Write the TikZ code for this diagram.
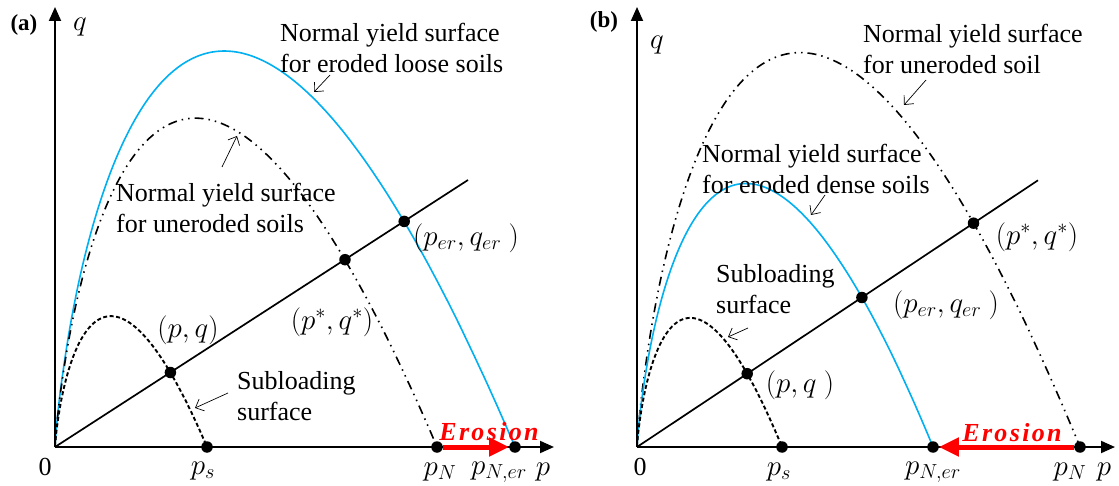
\RequirePackage{fix-cm}
\documentclass[tikz,border=0pt]{standalone}
\usepackage{fontspec}
\setmainfont{Liberation Serif}
\usetikzlibrary{arrows.meta}
\definecolor{yblue}{RGB}{0,176,240}
\definecolor{ered}{RGB}{255,0,0}
\begin{document}
\begin{tikzpicture}[x=1pt,y=1pt,
  axis/.style={line width=1.9pt,-{Triangle[length=14pt,width=12pt]}},
  ratio/.style={line width=1.7pt},
  bluecurve/.style={yblue,line width=1.6pt},
  unercurve/.style={line width=1.6pt,dash pattern=on 9pt off 5pt on 1.5pt off 5pt on 1.5pt off 5pt},
  subcurve/.style={line width=1.9pt,dash pattern=on 4pt off 2.5pt},
  dot/.style={circle,fill=black,inner sep=0pt,minimum size=11.5pt},
  pointer/.style={line width=0.7pt,-{Straight Barb[length=7pt,width=13pt]}},
  erosion/.style={ered,line width=5pt,-{Triangle[length=20pt,width=18pt]}},
  lbl/.style={inner sep=0pt,font=\fontsize{26}{31}\selectfont},
  mlbl/.style={inner sep=0pt,font=\fontsize{29}{33}\selectfont},
  multi/.style={lbl,align=left,anchor=west},
  tag/.style={inner sep=0pt,font=\fontsize{23}{27}\selectfont\bfseries},
  erotext/.style={inner sep=0pt,text=ered,font=\fontsize{26}{30}\selectfont\bfseries\itshape\addfontfeature{LetterSpace=9}}
]
\useasboundingbox (0,0) rectangle (1119,485);

% ---------------- panel (a) ----------------
\coordinate (Oa) at (55,38);
\coordinate (Ya) at (55,478);
\coordinate (Xa) at (554,38);
\coordinate (La) at (468,305);

\draw[bluecurve] plot[domain=0.01:1,samples=200,variable=\t] ({55+460*\t*\t},{38-2*2.34*460*\t*\t*ln(\t)});
\draw[unercurve] plot[domain=0.01:1,samples=200,variable=\t] ({55+382*\t*\t},{38-2*2.34*382*\t*\t*ln(\t)});
\draw[subcurve] plot[domain=0.01:1,samples=120,variable=\t] ({55+152*\t*\t},{38-2*2.34*152*\t*\t*ln(\t)});

\draw[axis] (Oa) -- (Ya);
\draw[axis] (Oa) -- (Xa);
\draw[ratio] (Oa) -- (La);

\node[dot] (pqa) at (170.4,112.5) {};
\node[dot] (psta) at (345.0,225.3) {};
\node[dot] (pera) at (404.2,263.6) {};
\node[dot] (psa) at (207,38) {};
\node[dot] (pNa) at (437,38) {};
\node[dot] (pNera) at (515,38) {};
\draw[erosion] (pNa) -- (pNera);

\node[tag] (taga) at (24,460) {(a)};
\node[mlbl] (qa) at (80,458) {$q$};
\node[lbl] (za) at (45,18) {0};
\node[mlbl] (lpsa) at (203,14) {$p_s$};
\node[mlbl] (lpNa) at (440,13) {$p_N$};
\node[mlbl] (lpNera) at (499,13) {$p_{N,er}$};
\node[mlbl] (lpa) at (543,13) {$p$};
\node[erotext] (eroa) at (489,53) {Erosion};

\node[multi] (topa) at (280,437) {Normal yield surface\\for eroded loose soils};
\node[multi] (unera) at (116,277) {Normal yield surface\\for uneroded soils};
\node[multi] (subla) at (237,89) {Subloading\\surface};
\node[mlbl] (lpera) at (466,247) {$(p_{er},q_{er}\ )$};
\node[mlbl] (lpsta) at (332,163) {$(p^*,q^*)$};
\node[mlbl] (lpqa) at (188,155) {$(p,q)$};

\coordinate (a1s) at (330,410); \coordinate (a1e) at (314,393);
\coordinate (a2s) at (222,318); \coordinate (a2e) at (237,349);
\coordinate (a3s) at (228,92);  \coordinate (a3e) at (195,77);
\draw[pointer] (a1s) -- (a1e);
\draw[pointer] (a2s) -- (a2e);
\draw[pointer] (a3s) -- (a3e);

% ---------------- panel (b) ----------------
\coordinate (Ob) at (637,38);
\coordinate (Yb) at (637,478);
\coordinate (Xb) at (1115,38);
\coordinate (Lb) at (1038,304.7);

\draw[unercurve] plot[domain=0.01:1,samples=200,variable=\t] ({637+443*\t*\t},{38-2*2.42*443*\t*\t*ln(\t)});
\draw[bluecurve] plot[domain=0.01:1,samples=200,variable=\t] ({637+296*\t*\t},{38-2*2.42*296*\t*\t*ln(\t)});
\draw[subcurve] plot[domain=0.01:1,samples=120,variable=\t] ({637+145*\t*\t},{38-2*2.42*145*\t*\t*ln(\t)});

\draw[axis] (Ob) -- (Yb);
\draw[axis] (Ob) -- (Xb);
\draw[ratio] (Ob) -- (Lb);

\node[dot] (pqb) at (747.2,111.3) {};
\node[dot] (perb) at (861.9,187.5) {};
\node[dot] (pstb) at (973.5,261.8) {};
\node[dot] (psb) at (782,38) {};
\node[dot] (pNerb) at (933,38) {};
\node[dot] (pNb) at (1080,38) {};
\draw[erosion] (pNb) -- (pNerb);

\node[tag] (tagb) at (604,463) {(b)};
\node[mlbl] (qb) at (657,440) {$q$};
\node[lbl] (zb) at (640,18) {0};
\node[mlbl] (lpsb) at (779,13) {$p_s$};
\node[mlbl] (lpNerb) at (933,13) {$p_{N,er}$};
\node[mlbl] (lpNb) at (1070,13) {$p_N$};
\node[mlbl] (lpb) at (1104,13) {$p$};
\node[erotext] (erob) at (1012,52) {Erosion};

\node[multi] (topb) at (863,436) {Normal yield surface\\for uneroded soil};
\node[multi] (midb) at (702,316) {Normal yield surface\\for eroded dense soils};
\node[multi] (sublb) at (716,196) {Subloading\\surface};
\node[mlbl] (lpstb) at (1037,248) {$(p^*,q^*)$};
\node[mlbl] (lperb) at (946,180) {$(p_{er},q_{er}\ )$};
\node[mlbl] (lpqb) at (800,100) {$(p,q\ )$};

\coordinate (b1s) at (926,405); \coordinate (b1e) at (904,380);
\coordinate (b2s) at (825,290); \coordinate (b2e) at (811,270);
\coordinate (b3s) at (748,157); \coordinate (b3e) at (728,148);
\draw[pointer] (b1s) -- (b1e);
\draw[pointer] (b2s) -- (b2e);
\draw[pointer] (b3s) -- (b3e);
\end{tikzpicture}
\end{document}
